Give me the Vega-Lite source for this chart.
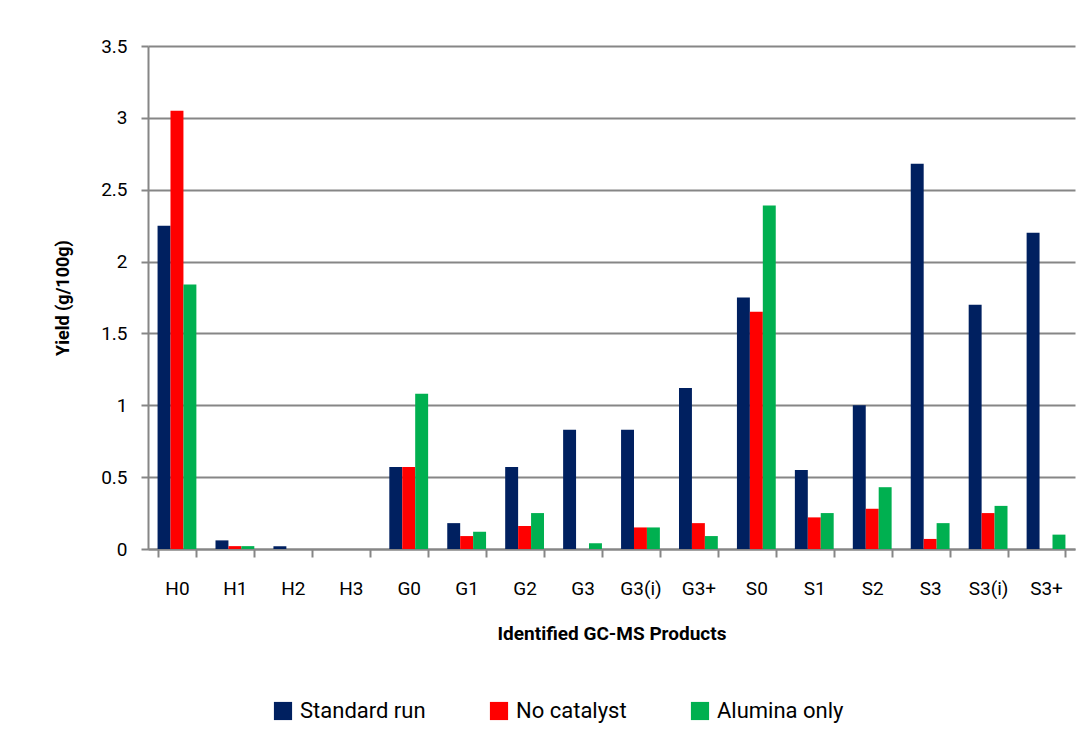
{
  "$schema": "https://vega.github.io/schema/vega-lite/v6.json",
  "width": 927,
  "height": 503,
  "autosize": {"type": "none"},
  "padding": {"left": 148, "top": 46, "right": 16, "bottom": 201},
  "background": "white",
  "config": {
    "font": "Roboto",
    "view": {"stroke": null}
  },
  "data": {
    "values": [
      {"product": "H0", "series": "Standard run", "yield": 2.25},
      {"product": "H0", "series": "No catalyst", "yield": 3.05},
      {"product": "H0", "series": "Alumina only", "yield": 1.84},
      {"product": "H1", "series": "Standard run", "yield": 0.06},
      {"product": "H1", "series": "No catalyst", "yield": 0.02},
      {"product": "H1", "series": "Alumina only", "yield": 0.02},
      {"product": "H2", "series": "Standard run", "yield": 0.02},
      {"product": "H2", "series": "No catalyst", "yield": 0},
      {"product": "H2", "series": "Alumina only", "yield": 0},
      {"product": "H3", "series": "Standard run", "yield": 0},
      {"product": "H3", "series": "No catalyst", "yield": 0},
      {"product": "H3", "series": "Alumina only", "yield": 0},
      {"product": "G0", "series": "Standard run", "yield": 0.57},
      {"product": "G0", "series": "No catalyst", "yield": 0.57},
      {"product": "G0", "series": "Alumina only", "yield": 1.08},
      {"product": "G1", "series": "Standard run", "yield": 0.18},
      {"product": "G1", "series": "No catalyst", "yield": 0.09},
      {"product": "G1", "series": "Alumina only", "yield": 0.12},
      {"product": "G2", "series": "Standard run", "yield": 0.57},
      {"product": "G2", "series": "No catalyst", "yield": 0.16},
      {"product": "G2", "series": "Alumina only", "yield": 0.25},
      {"product": "G3", "series": "Standard run", "yield": 0.83},
      {"product": "G3", "series": "No catalyst", "yield": 0},
      {"product": "G3", "series": "Alumina only", "yield": 0.04},
      {"product": "G3(i)", "series": "Standard run", "yield": 0.83},
      {"product": "G3(i)", "series": "No catalyst", "yield": 0.15},
      {"product": "G3(i)", "series": "Alumina only", "yield": 0.15},
      {"product": "G3+", "series": "Standard run", "yield": 1.12},
      {"product": "G3+", "series": "No catalyst", "yield": 0.18},
      {"product": "G3+", "series": "Alumina only", "yield": 0.09},
      {"product": "S0", "series": "Standard run", "yield": 1.75},
      {"product": "S0", "series": "No catalyst", "yield": 1.65},
      {"product": "S0", "series": "Alumina only", "yield": 2.39},
      {"product": "S1", "series": "Standard run", "yield": 0.55},
      {"product": "S1", "series": "No catalyst", "yield": 0.22},
      {"product": "S1", "series": "Alumina only", "yield": 0.25},
      {"product": "S2", "series": "Standard run", "yield": 1.0},
      {"product": "S2", "series": "No catalyst", "yield": 0.28},
      {"product": "S2", "series": "Alumina only", "yield": 0.43},
      {"product": "S3", "series": "Standard run", "yield": 2.68},
      {"product": "S3", "series": "No catalyst", "yield": 0.07},
      {"product": "S3", "series": "Alumina only", "yield": 0.18},
      {"product": "S3(i)", "series": "Standard run", "yield": 1.70},
      {"product": "S3(i)", "series": "No catalyst", "yield": 0.25},
      {"product": "S3(i)", "series": "Alumina only", "yield": 0.30},
      {"product": "S3+", "series": "Standard run", "yield": 2.2},
      {"product": "S3+", "series": "No catalyst", "yield": 0},
      {"product": "S3+", "series": "Alumina only", "yield": 0.10}
    ]
  },
  "mark": {"type": "bar"},
  "encoding": {
    "x": {
      "field": "product",
      "type": "nominal",
      "sort": null,
      "scale": {"paddingInner": 0.33, "paddingOuter": 0.165},
      "axis": {
        "title": "Identified GC-MS Products",
        "titleFont": "Roboto",
        "titleFontSize": 19,
        "titleFontWeight": "bold",
        "titleColor": "black",
        "titlePadding": 26,
        "labelAngle": 0,
        "labelFont": "Roboto",
        "labelFontSize": 19,
        "labelColor": "black",
        "labelPadding": 22,
        "tickBand": "extent",
        "tickSize": 8,
        "tickColor": "#868686",
        "tickWidth": 2,
        "domainColor": "#868686",
        "domainWidth": 2,
        "grid": false
      }
    },
    "xOffset": {
      "field": "series",
      "type": "nominal",
      "sort": ["Standard run", "No catalyst", "Alumina only"]
    },
    "y": {
      "field": "yield",
      "type": "quantitative",
      "scale": {"domain": [0, 3.5], "nice": false},
      "axis": {
        "title": "Yield (g/100g)",
        "titleFont": "Roboto",
        "titleFontSize": 18,
        "titleFontWeight": "bold",
        "titleColor": "black",
        "titlePadding": 28,
        "values": [0, 0.5, 1, 1.5, 2, 2.5, 3, 3.5],
        "format": "~g",
        "labelFont": "Roboto",
        "labelFontSize": 19,
        "labelColor": "black",
        "labelPadding": 14,
        "tickSize": 7,
        "tickColor": "#868686",
        "tickWidth": 2,
        "domainColor": "#868686",
        "domainWidth": 2,
        "grid": true,
        "gridColor": "#868686",
        "gridWidth": 2
      }
    },
    "color": {
      "field": "series",
      "type": "nominal",
      "sort": ["Standard run", "No catalyst", "Alumina only"],
      "scale": {
        "domain": ["Standard run", "No catalyst", "Alumina only"],
        "range": ["#002060", "#FF0000", "#00B050"]
      },
      "legend": {
        "title": null,
        "orient": "none",
        "legendX": 124,
        "legendY": 654,
        "direction": "horizontal",
        "symbolType": "square",
        "symbolSize": 330,
        "symbolStrokeWidth": 0,
        "labelFontSize": 22,
        "labelColor": "black",
        "labelFont": "Roboto",
        "columnPadding": 62,
        "labelOffset": 6
      }
    }
  }
}
